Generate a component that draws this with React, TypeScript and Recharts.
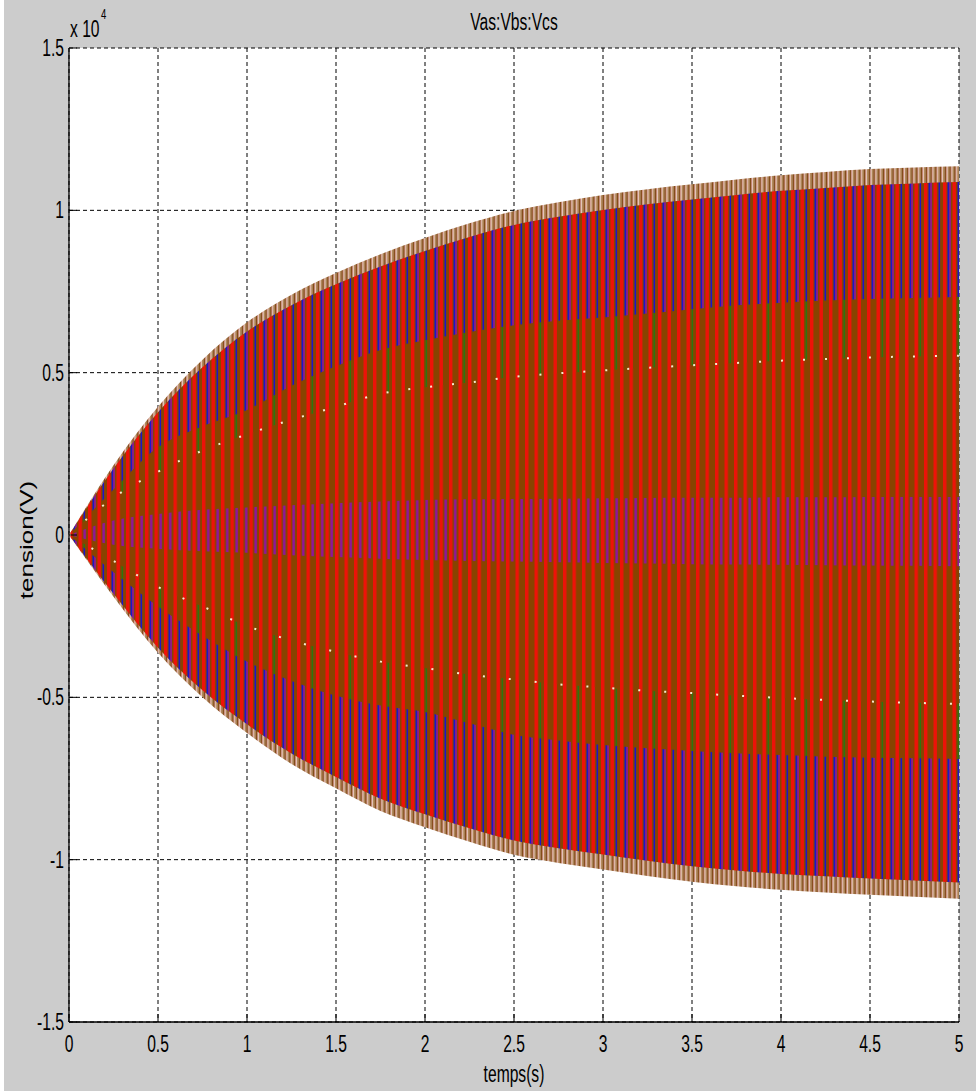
import React from "react";
import {
  ComposedChart,
  Area,
  Line,
  XAxis,
  YAxis,
  CartesianGrid,
} from "recharts";

// time samples (s)
const T = [0, 0.25, 0.5, 0.75, 1, 1.25, 1.5, 1.75, 2, 2.25, 2.5, 2.75, 3, 3.25, 3.5, 3.75, 4, 4.25, 4.5, 4.75, 5];
// upper outer envelope (tips of the traces)
const outerTop = [0, 2150, 3950, 5400, 6550, 7400, 8070, 8650, 9150, 9600, 9980, 10250, 10470, 10650, 10800, 10950, 11080, 11180, 11270, 11320, 11360];
// upper edge of blue band (below tan tips)
const blueTop = [0, 2050, 3780, 5170, 6270, 7080, 7720, 8270, 8750, 9180, 9550, 9800, 10010, 10190, 10330, 10470, 10600, 10690, 10780, 10830, 10870];
// inner edge of upper blue band
const blueInnerTop = [0, 1400, 2700, 3350, 3850, 4600, 5200, 5700, 6000, 6250, 6460, 6600, 6700, 6820, 6950, 7080, 7150, 7220, 7270, 7300, 7330];
// upper row of white dots
const dotsTop = [0, 1150, 1950, 2600, 3100, 3550, 3950, 4350, 4550, 4700, 4870, 4980, 5070, 5150, 5230, 5300, 5370, 5420, 5470, 5500, 5520];
// central purple band
const centerTop = [0, 450, 650, 780, 850, 920, 980, 1030, 1080, 1100, 1110, 1120, 1130, 1140, 1150, 1150, 1160, 1160, 1170, 1170, 1170];
const centerBot = [0, -300, -420, -500, -550, -620, -680, -730, -770, -800, -820, -840, -860, -880, -900, -910, -920, -930, -940, -950, -960];
// lower row of white dots
const dotsBot = [0, -800, -1600, -2200, -2800, -3250, -3600, -3900, -4100, -4300, -4450, -4600, -4700, -4800, -4870, -4950, -5020, -5080, -5130, -5170, -5200];
// inner edge of lower blue band
const blueInnerBot = [0, -1150, -2200, -3100, -3900, -4500, -4950, -5250, -5450, -5800, -6150, -6330, -6470, -6570, -6650, -6720, -6780, -6830, -6860, -6880, -6900];
// lower edge of blue band
const blueBot = [0, -1810, -3470, -4780, -5830, -6730, -7450, -8120, -8600, -9030, -9410, -9650, -9840, -10030, -10200, -10330, -10440, -10510, -10580, -10640, -10700];
// lower outer envelope
const outerBot = [0, -1900, -3630, -5000, -6100, -7050, -7800, -8500, -9000, -9450, -9850, -10100, -10300, -10500, -10680, -10820, -10930, -11010, -11080, -11140, -11200];

const xTicks = [0, 0.5, 1, 1.5, 2, 2.5, 3, 3.5, 4, 4.5, 5];
const yTicks = [-15000, -10000, -5000, 0, 5000, 10000, 15000];
const yTickLabels = ["-1.5", "-1", "-0.5", "0", "0.5", "1", "1.5"];

const title = "Vas:Vbs:Vcs";
const xLabel = "temps(s)";
const yLabel = "tension(V)";

const data = T.map((t, i) => ({
  t,
  outer: [outerBot[i], outerTop[i]],
  blue: [blueBot[i], blueTop[i]],
  inner: [blueInnerBot[i], blueInnerTop[i]],
  mid: [dotsBot[i], dotsTop[i]],
  center: [centerBot[i], centerTop[i]],
  dTop: dotsTop[i],
  dBot: dotsBot[i],
}));

const FONT = "'Liberation Sans', Arial, sans-serif";
const SX = 0.68;

const XTick = (props: any) => {
  const { x, y, payload } = props;
  const v = payload.value;
  return (
    <g transform={`translate(${x},${y + 30})`}>
      <text transform={`scale(${SX},1)`} textAnchor="middle" fontSize={23} fontFamily={FONT} fill="#000">
        {String(v)}
      </text>
    </g>
  );
};

const YTick = (props: any) => {
  const { x, y, payload } = props;
  const idx = yTicks.indexOf(payload.value);
  return (
    <g transform={`translate(${x - 5},${y + 8})`}>
      <text transform={`scale(${SX},1)`} textAnchor="end" fontSize={23} fontFamily={FONT} fill="#000">
        {yTickLabels[idx]}
      </text>
    </g>
  );
};

const BROWN = "#884300";
const RED = "#ee1208";
const BLUE = "#1c16c8";
const PURPLE = "#8e14a4";
const GREEN = "#2f7410";

export default function App() {
  return (
    <div style={{ position: "absolute", left: 0, top: 0, width: 976, height: 1091, background: "#ffffff" }}>
      <div style={{ position: "absolute", left: 4, top: 0, width: 972, height: 1091, background: "#cccccc" }}>
        <div style={{ position: "absolute", left: 65, top: 48, width: 890, height: 974, background: "#ffffff" }} />
        <ComposedChart
          width={972}
          height={1091}
          data={data}
          margin={{ top: 48, right: 17, bottom: 39, left: 25 }}
          style={{ position: "absolute", left: 0, top: 0 }}
        >
          <defs>
            <pattern id="pRed" patternUnits="userSpaceOnUse" x={65} y={0} width={9.5} height={10}>
              <rect x={0} y={0} width={9.5} height={10} fill={BROWN} />
              <rect x={0} y={0} width={3.4} height={10} fill={RED} />
            </pattern>
            <pattern id="pGreen" patternUnits="userSpaceOnUse" x={65} y={0} width={38} height={10}>
              <rect x={0} y={0} width={38} height={10} fill={BROWN} />
              <rect x={0} y={0} width={3.4} height={10} fill={RED} />
              <rect x={9.5} y={0} width={3.4} height={10} fill={RED} />
              <rect x={19} y={0} width={3.4} height={10} fill={RED} />
              <rect x={28.5} y={0} width={3.4} height={10} fill={RED} />
              <rect x={14.5} y={0} width={1.6} height={10} fill={GREEN} />
            </pattern>
            <pattern id="pBlue" patternUnits="userSpaceOnUse" x={65} y={0} width={19} height={10}>
              <rect x={0} y={0} width={19} height={10} fill={BROWN} />
              <rect x={0} y={0} width={3.4} height={10} fill={RED} />
              <rect x={9.5} y={0} width={3.4} height={10} fill={RED} />
              <rect x={4.5} y={0} width={1.8} height={10} fill={BLUE} />
              <rect x={6.3} y={0} width={1.5} height={10} fill={PURPLE} />
              <rect x={14.5} y={0} width={1.6} height={10} fill={BLUE} />
            </pattern>
            <pattern id="pCenter" patternUnits="userSpaceOnUse" x={65} y={0} width={9.5} height={10}>
              <rect x={0} y={0} width={9.5} height={10} fill={BROWN} />
              <rect x={0} y={0} width={3.4} height={10} fill={RED} />
              <rect x={5} y={0} width={2.4} height={10} fill={PURPLE} />
            </pattern>
            <pattern id="pTip" patternUnits="userSpaceOnUse" x={65} y={0} width={4.75} height={10}>
              <rect x={0} y={0} width={4.75} height={10} fill="#f2e8de" />
              <rect x={0} y={0} width={1.4} height={10} fill="#b48a5c" />
              <rect x={1.4} y={0} width={1.8} height={10} fill="#7e4610" />
              <rect x={3.2} y={0} width={0.9} height={10} fill="#c87a70" />
            </pattern>
          </defs>
          <CartesianGrid stroke="#000" strokeWidth={1} strokeDasharray="4 3" fill="none" />
          <XAxis
            dataKey="t"
            type="number"
            domain={[0, 5]}
            ticks={xTicks}
            interval={0}
            height={30}
            tickSize={-8}
            tickMargin={8}
            tick={<XTick />}
            axisLine={{ stroke: "#000", strokeWidth: 1.3 }}
            tickLine={{ stroke: "#000" }}
          />
          <XAxis
            xAxisId="top"
            orientation="top"
            dataKey="t"
            type="number"
            domain={[0, 5]}
            ticks={xTicks}
            interval={0}
            height={0}
            tickSize={-8}
            tick={false}
            axisLine={{ stroke: "#000", strokeWidth: 1.3 }}
            tickLine={{ stroke: "#000" }}
          />
          <YAxis
            type="number"
            domain={[-15000, 15000]}
            ticks={yTicks}
            interval={0}
            width={40}
            tickSize={-8}
            tickMargin={8}
            tick={<YTick />}
            axisLine={{ stroke: "#000", strokeWidth: 1.3 }}
            tickLine={{ stroke: "#000" }}
          />
          <YAxis
            yAxisId="right"
            orientation="right"
            type="number"
            domain={[-15000, 15000]}
            ticks={yTicks}
            interval={0}
            width={0}
            tickSize={-8}
            tick={false}
            axisLine={{ stroke: "#000", strokeWidth: 1.3 }}
            tickLine={{ stroke: "#000" }}
          />
          <Area dataKey="outer" type="monotone" stroke="none" fill="url(#pTip)" fillOpacity={1} isAnimationActive={false} />
          <Area dataKey="blue" type="monotone" stroke="none" fill="url(#pBlue)" fillOpacity={1} isAnimationActive={false} />
          <Area dataKey="inner" type="monotone" stroke="none" fill="url(#pGreen)" fillOpacity={1} isAnimationActive={false} />
          <Area dataKey="mid" type="monotone" stroke="none" fill="url(#pRed)" fillOpacity={1} isAnimationActive={false} />
          <Area dataKey="center" type="monotone" stroke="none" fill="url(#pCenter)" fillOpacity={1} isAnimationActive={false} />
          <Line dataKey="dTop" type="monotone" stroke="#f6ecd0" strokeWidth={2} strokeDasharray="2 20" dot={false} isAnimationActive={false} />
          <Line dataKey="dBot" type="monotone" stroke="#f6ecd0" strokeWidth={2} strokeDasharray="2 24" dot={false} isAnimationActive={false} />
          <text x={510} y={30} textAnchor="middle" fontSize={23} fontFamily={FONT} fill="#000" transform={`translate(${510 * (1 - SX)},0) scale(${SX},1)`}>
            {title}
          </text>
          <text x={66} y={37} fontSize={23} fontFamily={FONT} fill="#000" transform={`translate(${66 * (1 - SX)},0) scale(${SX},1)`}>
            x 10
          </text>
          <text x={97} y={19} fontSize={14} fontFamily={FONT} fill="#000" transform={`translate(${97 * (1 - SX)},0) scale(${SX},1)`}>
            4
          </text>
          <text x={510} y={1082} textAnchor="middle" fontSize={23} fontFamily={FONT} fill="#000" transform={`translate(${510 * (1 - SX)},0) scale(${SX},1)`}>
            {xLabel}
          </text>
          <g transform={`translate(29,540) scale(${SX},1) rotate(-90)`}>
            <text x={0} y={0} textAnchor="middle" fontSize={26} fontFamily={FONT} fill="#000">
              {yLabel}
            </text>
          </g>
        </ComposedChart>
      </div>
    </div>
  );
}
